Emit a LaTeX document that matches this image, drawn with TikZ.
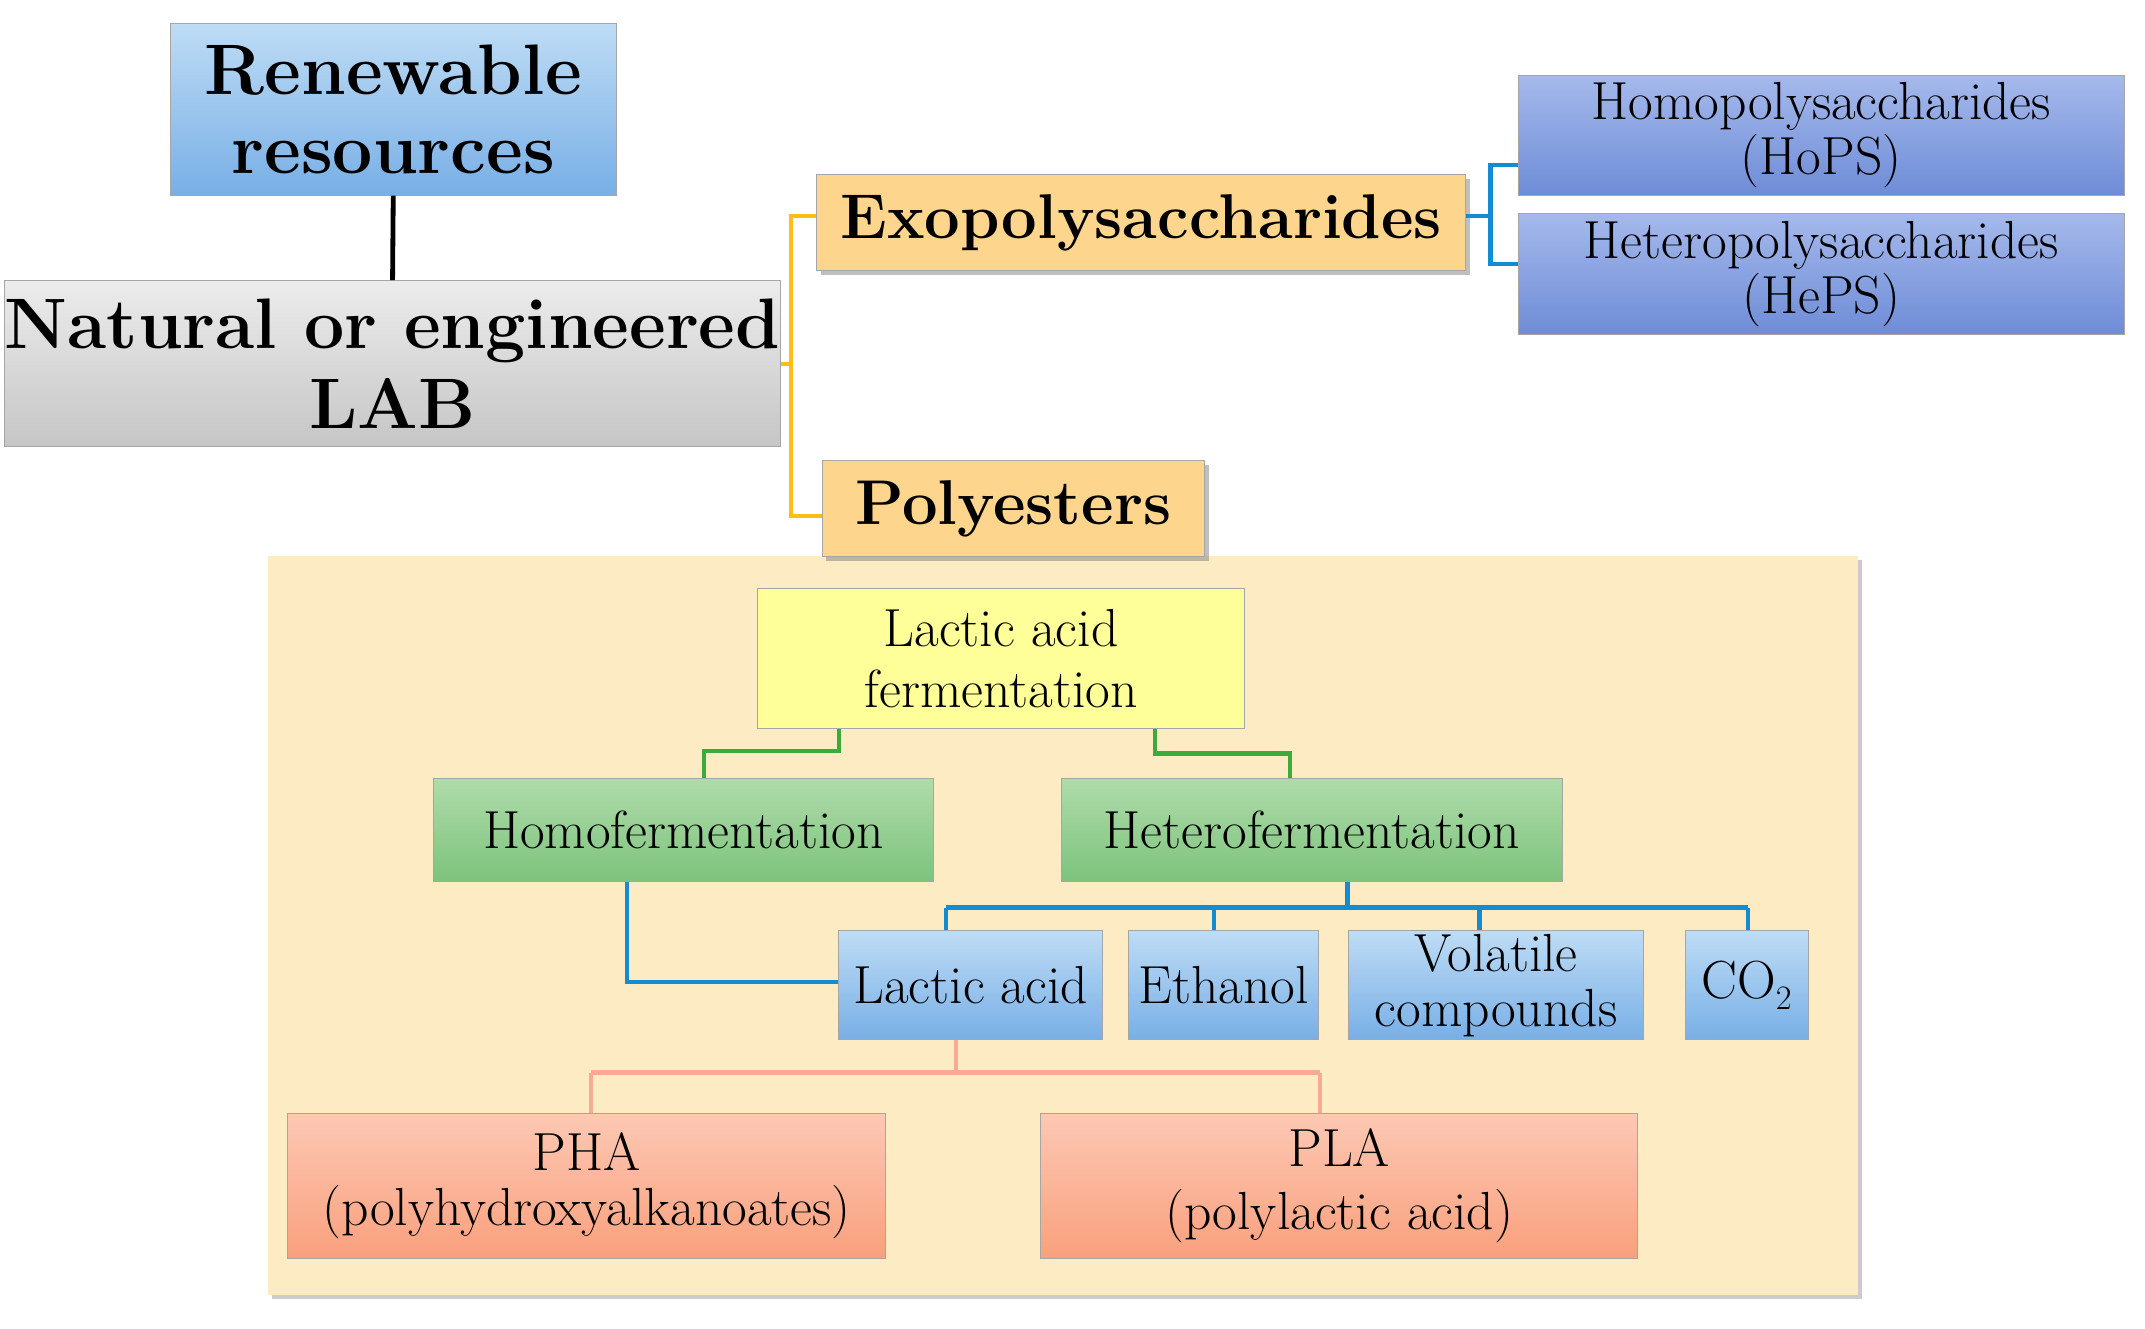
\documentclass[tikz,border=0pt]{standalone}
\usetikzlibrary{shadows}
\definecolor{panel}{RGB}{253,235,196}
\definecolor{blB}{RGB}{120,175,230}
\definecolor{blT}{RGB}{190,220,245}
\definecolor{pT}{RGB}{165,185,235}
\definecolor{pB}{RGB}{110,140,215}
\definecolor{orng}{RGB}{253,213,140}
\definecolor{gT}{RGB}{175,220,170}
\definecolor{gB}{RGB}{125,195,125}
\definecolor{sT}{RGB}{253,200,180}
\definecolor{sB}{RGB}{249,160,125}
\definecolor{ylw}{RGB}{255,255,153}
\definecolor{blu}{RGB}{20,140,210}
\definecolor{gold}{RGB}{250,190,20}
\definecolor{grn}{RGB}{60,170,60}
\definecolor{pnk}{RGB}{248,170,150}
\begin{document}
\begin{tikzpicture}[x=1pt,y=-1pt,
  box/.style={draw=gray!70,line width=0.6pt,inner sep=0pt,align=center},
  bluebox/.style={box,top color=blT,bottom color=blB},
  pbox/.style={box,top color=pT,bottom color=pB},
  graybox/.style={box,top color=gray!15,bottom color=gray!45},
  obox/.style={box,fill=orng,drop shadow={shadow xshift=3pt,shadow yshift=-3pt,opacity=0.5}},
  gbox/.style={box,top color=gT,bottom color=gB},
  sbox/.style={box,top color=sT,bottom color=sB},
  big/.style={font=\fontsize{52}{58}\selectfont\bfseries},
  mid/.style={font=\fontsize{46}{52}\selectfont\bfseries},
  txt/.style={font=\fontsize{39}{40}\selectfont},
  bl/.style={line width=3pt,color=blu},
  ]
\useasboundingbox (0,0) rectangle (1560,966);
\fill[panel,drop shadow={shadow xshift=3pt,shadow yshift=-3pt,opacity=0.4}] (195,404) rectangle (1351,942);
\node[bluebox,big,minimum width=324,minimum height=125] (ren) at (286,79.5) {Renewable\\resources};
\node[graybox,big,minimum width=541,minimum height=121] (lab) at (285.5,264.5) {Natural or engineered\\LAB};
\node[obox,mid,minimum width=472,minimum height=70] (exo) at (830,162) {Exopolysaccharides};
\node[obox,mid,minimum width=278,minimum height=70] (poly) at (737,370) {Polyesters};
\node[pbox,txt,minimum width=441,minimum height=87] (homo) at (1324.5,98.5) {Homopolysaccharides\\(HoPS)};
\node[pbox,txt,minimum width=441,minimum height=88] (hetero) at (1324.5,199) {Heteropolysaccharides\\(HePS)};
\node[box,fill=ylw,txt,minimum width=354,minimum height=102] (laf) at (728,479) {Lactic acid\\[4pt]fermentation};
\node[gbox,txt,minimum width=364,minimum height=75] (hf) at (497,603.5) {Homofermentation};
\node[gbox,txt,minimum width=364,minimum height=75] (htf) at (954,603.5) {Heterofermentation};
\node[bluebox,txt,minimum width=192,minimum height=79] (la) at (706,716.5) {Lactic acid};
\node[bluebox,txt,minimum width=138,minimum height=79] (eth) at (890,716.5) {Ethanol};
\node[bluebox,txt,minimum width=214,minimum height=79] (vol) at (1088,716.5) {Volatile\\compounds};
\node[bluebox,txt,minimum width=89,minimum height=79] (co) at (1270.5,716.5) {CO$_2$};
\node[sbox,txt,minimum width=435,minimum height=105] (pha) at (426.5,862.5) {PHA\\(polyhydroxyalkanoates)};
\node[sbox,txt,minimum width=434,minimum height=105] (pla) at (974,862.5) {PLA\\[6pt](polylactic acid)};
% connectors
\draw[line width=3.5pt] (ren.south) -- (lab.north);
\draw[line width=3pt,color=gold] (lab.east) -- (575,264.5) (exo.west|-0,157) -- (575,157) -- (575,375) -- (poly.west|-0,375);
\draw[bl] (exo.east|-0,157) -- (1084,157) (homo.west|-0,120) -- (1084,120) -- (1084,192) -- (hetero.west|-0,192);
\draw[line width=3pt,color=grn] (laf.south-|610,0) -- (610,546) -- (512,546) -- (hf.north-|512,0)
  (laf.south-|840,0) -- (840,548) -- (938,548) -- (htf.north-|938,0);
\draw[bl] (htf.south-|980,0) -- (980,660) (688,660) -- (1271,660);
\draw[bl] (688,660) -- (la.north-|688,0) (883,660) -- (eth.north-|883,0) (1076,660) -- (vol.north-|1076,0) (1271,660) -- (co.north-|1271,0);
\draw[bl] (hf.south-|456,0) -- (456,714) -- (la.west|-0,714);
\draw[line width=3pt,color=pnk] (la.south-|695,0) -- (695,780) (430,780) -- (960,780) (430,780) -- (pha.north-|430,0) (960,780) -- (pla.north-|960,0);
\end{tikzpicture}
\end{document}
